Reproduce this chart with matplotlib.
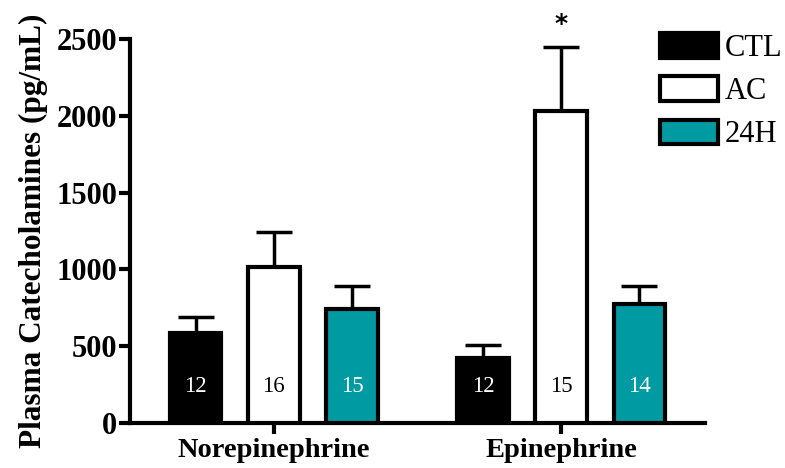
import matplotlib
matplotlib.use("Agg")
import matplotlib.pyplot as plt
import numpy as np
from matplotlib.patches import Patch

groups = ["Norepinephrine", "Epinephrine"]
series = ["CTL", "AC", "24H"]
means = {"CTL": [586, 423], "AC": [1016, 2030], "24H": [742, 775]}
sems = {"CTL": [104, 85], "AC": [228, 418], "24H": [150, 117]}
ns = {"CTL": [12, 12], "AC": [16, 15], "24H": [15, 14]}
colors = {"CTL": "#000000", "AC": "#ffffff", "24H": "#009aa2"}
text_colors = {"CTL": "white", "AC": "black", "24H": "white"}
yticks = [0, 500, 1000, 1500, 2000, 2500]

serif = ["Liberation Serif", "DejaVu Serif"]
fig = plt.figure(figsize=(7.85, 4.68), dpi=100)
ax = fig.add_axes([0.1656, 0.0962, 0.7325, 0.8205])

x = np.arange(len(groups))
offsets = [-0.272, 0.0, 0.272]
width = 0.18
for s, off in zip(series, offsets):
    xs = x + off
    ax.bar(xs, means[s], width, color=colors[s], edgecolor="black", linewidth=3, zorder=3)
    ax.errorbar(xs, means[s], yerr=[np.zeros(2), sems[s]], fmt="none", ecolor="black",
                elinewidth=2.5, capsize=13, capthick=2.5, zorder=2)
    for xi, n in zip(xs, ns[s]):
        ax.text(xi, 240, str(n), ha="center", va="center", color=text_colors[s],
                fontsize=16.5, family=serif, zorder=4)

ax.text(x[1] + offsets[1], 2595, "*", ha="center", va="center", fontsize=18,
        fontweight="bold", family="DejaVu Sans", clip_on=False)

ax.set_xlim(-0.5, 1.5)
ax.set_ylim(0, 2500)
ax.set_yticks(yticks)
ax.set_yticklabels([str(t) for t in yticks], fontsize=22, fontweight="bold", family=serif)
ax.set_xticks(x)
ax.set_xticklabels(groups, fontsize=20.5, fontweight="bold", family=serif)
ax.set_ylabel("Plasma Catecholamines (pg/mL)", fontsize=22.5, fontweight="bold", family=serif, labelpad=6)
for sp in ["top", "right"]:
    ax.spines[sp].set_visible(False)
for sp in ["left", "bottom"]:
    ax.spines[sp].set_linewidth(3)
ax.tick_params(axis="y", width=3, length=8, pad=1)
ax.tick_params(axis="x", width=3, length=8, pad=3)

handles = [Patch(facecolor=colors[s], edgecolor="black", linewidth=3, label=s) for s in series]
leg = ax.legend(handles=handles, loc="upper left", bbox_to_anchor=(0.922, 1.015), frameon=False,
                prop={"family": serif, "size": 22}, handlelength=1.9, handleheight=0.85,
                handletextpad=0.22, labelspacing=0.44, borderaxespad=0, borderpad=0)
fig.savefig("out.png", dpi=100)
